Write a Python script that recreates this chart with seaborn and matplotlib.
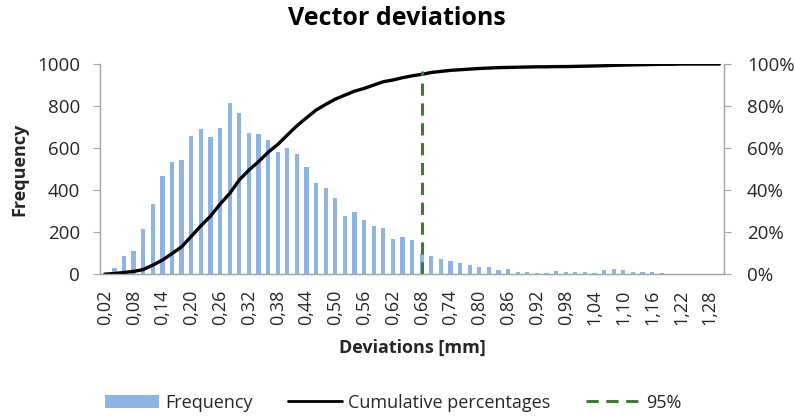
import numpy as np
import pandas as pd
import matplotlib
matplotlib.use("Agg")
import matplotlib.pyplot as plt
import seaborn as sns
from matplotlib.patches import Patch
from matplotlib.lines import Line2D
from matplotlib.ticker import FixedLocator, FuncFormatter

# ---- data ----
deviations = [f"{0.02 * (i + 1):.2f}".replace(".", ",") for i in range(65)]  # 0,02 .. 1,30
frequency = [0, 27, 87, 108, 214, 332, 465, 533, 544, 656,
             690, 651, 695, 817, 768, 671, 665, 638, 583, 602,
             571, 508, 435, 411, 362, 279, 298, 259, 230, 219,
             167, 176, 162, 95, 87, 71, 63, 52, 43, 33,
             33, 19, 24, 10, 10, 5, 5, 14, 10, 10,
             10, 5, 19, 24, 19, 10, 10, 10, 5, 0,
             0, 0, 0, 0, 0]
cumulative = [0, 0.3, 0.8, 1.3, 2.2, 4.3, 6.7, 9.8, 13.0, 18.0,
              23.0, 27.6, 33.3, 38.4, 44.8, 49.5, 53.5, 58.0, 61.7, 66.2,
              70.6, 74.4, 78.1, 80.8, 83.3, 85.2, 87.1, 88.4, 90.0, 91.6,
              92.4, 93.5, 94.4, 95.1, 96.0, 96.5, 97.0, 97.3, 97.6, 97.9,
              98.1, 98.3, 98.4, 98.5, 98.6, 98.7, 98.7, 98.8, 98.8, 98.9,
              99.0, 99.1, 99.2, 99.4, 99.5, 99.6, 99.7, 99.8, 99.9, 99.9,
              100, 100, 100, 100, 100]
p95_category = "0,68"
p95_span = [0, 96.5]
label_step = 3

df = pd.DataFrame({"Deviation": deviations, "Frequency": frequency,
                   "Cumulative": cumulative})

sns.set_style("white")
plt.rcParams['font.family'] = ['Open Sans', 'DejaVu Sans']

BLUE = "#8DB4E2"
GREEN = "#3E7A34"
GRAY = "#A6A6A6"
TXT = "#262626"

fig = plt.figure(figsize=(7.94, 4.16), dpi=100)
ax = fig.add_axes([0.126, 0.341, 0.786, 0.505])

sns.barplot(data=df, x="Deviation", y="Frequency", ax=ax, color=BLUE,
            width=0.45, saturation=1, edgecolor="none")
ax.set_xlim(-0.5, len(deviations) - 0.5)
ax.set_ylim(0, 1000)
ax.set_yticks([0, 200, 400, 600, 800, 1000])

ax2 = ax.twinx()
xpos = np.arange(len(deviations))
sns.lineplot(x=xpos, y=df["Cumulative"], ax=ax2, color="black", lw=2.4)
xi = deviations.index(p95_category)
ax2.plot([xi, xi], p95_span, color=GREEN, lw=2.2, ls=(0, (4, 2.5)))
ax2.set_ylim(0, 100)
ax2.set_xlim(-0.5, len(deviations) - 0.5)
ax2.set_yticks([0, 20, 40, 60, 80, 100])
ax2.yaxis.set_major_formatter(FuncFormatter(lambda v, p: f"{int(v)}%"))
ax2.set_ylabel("")

# x ticks: labels every 3rd category, tick marks at category boundaries
ax.set_xticks(xpos[::label_step])
ax.set_xticklabels(deviations[::label_step], rotation=90)
ax.xaxis.set_minor_locator(FixedLocator(np.arange(-0.5, len(deviations), 1)))
ax.tick_params(axis="x", which="major", length=0, pad=11, labelsize=13, labelcolor=TXT)
ax.tick_params(axis="x", which="minor", length=5, color=GRAY, width=0.8, direction="out")
ax.tick_params(axis="y", length=5, color=GRAY, width=0.8, direction="out",
               labelsize=13.5, labelcolor=TXT, pad=9.5)
ax2.tick_params(axis="y", length=5, color=GRAY, width=0.8, direction="out",
                labelsize=13.5, labelcolor=TXT, pad=11.5)

for a in (ax, ax2):
    a.spines["top"].set_visible(False)
    for s in ("left", "right", "bottom"):
        a.spines[s].set_color(GRAY)
        a.spines[s].set_linewidth(0.9)

ax.set_xlabel("Deviations [mm]", fontsize=13, fontweight="bold", color=TXT, labelpad=10)
ax.set_ylabel("Frequency", fontsize=13, fontweight="bold", color=TXT, labelpad=6)
fig.suptitle("Vector deviations", x=0.5, y=0.985, fontsize=18, fontweight="bold", color="black")

handles = [Patch(facecolor=BLUE, edgecolor="none"),
           Line2D([0], [0], color="black", lw=2),
           Line2D([0], [0], color=GREEN, lw=2.2, ls=(0, (4, 2.5)))]
fig.legend(handles, ["Frequency", "Cumulative percentages", "95%"],
           loc="center", bbox_to_anchor=(0.495, 0.032), ncol=3, frameon=False,
           fontsize=13, handlelength=3.0, columnspacing=1.95, handletextpad=0.35,
           labelcolor=TXT, borderpad=0.1)

fig.savefig("out.png", dpi=100)
